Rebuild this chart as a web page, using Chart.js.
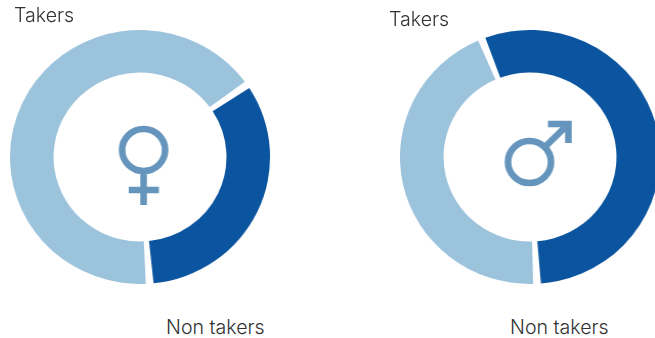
<!DOCTYPE html>
<html lang="en">

<head>
    <meta charset="UTF-8">
    <title>Takers and non takers</title>
    <style>
        html, body {
            margin: 0;
            width: 655px;
            height: 338px;
            overflow: hidden;
            background-color: white;
        }

        .box {
            position: absolute;
            top: 0;
            width: 280px;
            height: 314px;
            transform: scaleX(1.024);
        }

        .label {
            position: absolute;
            font-family: Inter, sans-serif;
            font-weight: 300;
            font-size: 19.6px;
            line-height: 22px;
            color: #333;
            white-space: nowrap;
        }
    </style>
</head>

<body>
    <div class="box" style="left: 0"><canvas id="women"></canvas></div>
    <div class="box" style="left: 389.5px"><canvas id="men"></canvas></div>
    <div class="label" style="left: 14px; top: 4px">Takers</div>
    <div class="label" style="left: 166px; top: 316px">Non takers</div>
    <div class="label" style="left: 389px; top: 8px">Takers</div>
    <div class="label" style="left: 510px; top: 316px">Non takers</div>

    <script src="https://cdn.jsdelivr.net/npm/chart.js"></script>
    <script>
        const categories = ['Non takers', 'Takers'];
        const womenValues = [33.1, 66.9];
        const menValues = [55.3, 44.7];
        const sliceColors = ['#0B549F', '#9CC3DC'];
        const symbolColor = '#6595BC';

        // Gender symbol in the hole, drawn around the centre of the doughnut
        const genderSymbol = {
            id: 'genderSymbol',
            afterDraw(chart, args, opts) {
                const arc = chart.getDatasetMeta(0).data[0];
                const c = chart.ctx;
                c.save();
                c.translate(arc.x, arc.y);
                c.strokeStyle = symbolColor;
                c.lineWidth = 6.5;
                c.lineCap = 'butt';
                c.lineJoin = 'miter';
                c.beginPath();
                if (opts.kind === 'female') {
                    c.arc(3.5, -7, 21, 0, Math.PI * 2);
                    c.moveTo(3.5, 17);
                    c.lineTo(3.5, 48);
                    c.moveTo(-11, 33);
                    c.lineTo(18.5, 33);
                } else {
                    c.arc(-0.5, 5, 21, 0, Math.PI * 2);
                    c.moveTo(14.5, -10);
                    c.lineTo(37.5, -33);
                    c.moveTo(17.5, -33);
                    c.lineTo(37.5, -33);
                    c.lineTo(37.5, -14);
                }
                c.stroke();
                c.restore();
            }
        };

        function donut(id, values, rotation, kind) {
            new Chart(document.getElementById(id), {
                type: 'doughnut',
                data: {
                    labels: categories,
                    datasets: [{
                        data: values,
                        backgroundColor: sliceColors,
                        borderWidth: 0,
                        spacing: 4
                    }]
                },
                options: {
                    responsive: true,
                    maintainAspectRatio: false,
                    animation: false,
                    rotation: rotation,
                    radius: 125,
                    cutout: 91,
                    plugins: {
                        legend: { display: false },
                        tooltip: { enabled: false },
                        genderSymbol: { kind: kind }
                    }
                },
                plugins: [genderSymbol]
            });
        }

        donut('women', womenValues, 56, 'female');
        donut('men', menValues, -22, 'male');
    </script>
</body>

</html>
